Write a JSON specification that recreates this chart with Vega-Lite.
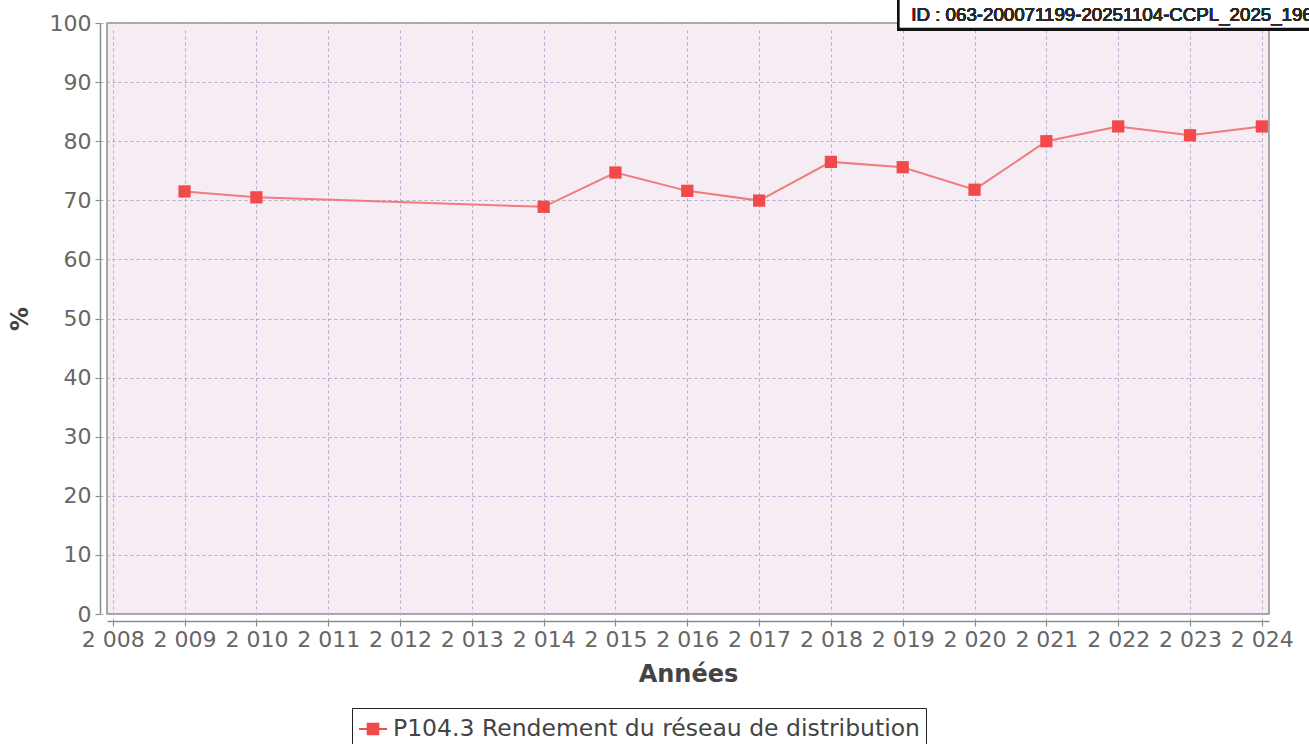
{
  "$schema": "https://vega.github.io/schema/vega-lite/v6.json",
  "width": 1162,
  "height": 591,
  "autosize": {"type": "none"},
  "padding": {"left": 107, "top": 23, "right": 40, "bottom": 130},
  "background": "white",
  "config": {
    "font": "DejaVu Sans",
    "view": {"fill": "#f5ecf4", "stroke": "#8c8c8c", "strokeWidth": 1.5},
    "axis": {
      "gridColor": "#b4a8cc",
      "gridDash": [3, 3],
      "gridWidth": 1,
      "gridOpacity": 1,
      "domainColor": "#8c8c8c",
      "domainWidth": 1.5,
      "tickColor": "#8c8c8c",
      "tickWidth": 1.2,
      "tickSize": 5,
      "labelFontSize": 22,
      "labelColor": "#666666",
      "titleFontSize": 24,
      "titleFontWeight": "bold",
      "titleColor": "#444444",
      "labelOverlap": false,
      "labelFlush": false,
      "offset": 7
    }
  },
  "data": {
    "values": [
      {"annee": 2009, "valeur": 71.5, "serie": "P104.3 Rendement du réseau de distribution"},
      {"annee": 2010, "valeur": 70.5, "serie": "P104.3 Rendement du réseau de distribution"},
      {"annee": 2014, "valeur": 68.9, "serie": "P104.3 Rendement du réseau de distribution"},
      {"annee": 2015, "valeur": 74.7, "serie": "P104.3 Rendement du réseau de distribution"},
      {"annee": 2016, "valeur": 71.6, "serie": "P104.3 Rendement du réseau de distribution"},
      {"annee": 2017, "valeur": 69.95, "serie": "P104.3 Rendement du réseau de distribution"},
      {"annee": 2018, "valeur": 76.5, "serie": "P104.3 Rendement du réseau de distribution"},
      {"annee": 2019, "valeur": 75.6, "serie": "P104.3 Rendement du réseau de distribution"},
      {"annee": 2020, "valeur": 71.8, "serie": "P104.3 Rendement du réseau de distribution"},
      {"annee": 2021, "valeur": 80.0, "serie": "P104.3 Rendement du réseau de distribution"},
      {"annee": 2022, "valeur": 82.5, "serie": "P104.3 Rendement du réseau de distribution"},
      {"annee": 2023, "valeur": 81.0, "serie": "P104.3 Rendement du réseau de distribution"},
      {"annee": 2024, "valeur": 82.5, "serie": "P104.3 Rendement du réseau de distribution"}
    ]
  },
  "encoding": {
    "x": {
      "field": "annee",
      "type": "quantitative",
      "scale": {"domain": [2007.92, 2024.1], "nice": false, "zero": false},
      "axis": {
        "values": [2008, 2009, 2010, 2011, 2012, 2013, 2014, 2015, 2016, 2017, 2018, 2019, 2020, 2021, 2022, 2023, 2024],
        "labelExpr": "slice(datum.value + '', 0, 1) + ' ' + slice(datum.value + '', 1)",
        "title": "Années",
        "labelPadding": 3,
        "titlePadding": 12
      }
    },
    "y": {
      "field": "valeur",
      "type": "quantitative",
      "scale": {"domain": [0, 100], "nice": false},
      "axis": {
        "values": [0, 10, 20, 30, 40, 50, 60, 70, 80, 90, 100],
        "title": "%",
        "labelPadding": 4,
        "titlePadding": 17
      }
    }
  },
  "layer": [
    {
      "mark": {"type": "line", "strokeWidth": 2, "color": "#f07c7c"},
      "encoding": {}
    },
    {
      "mark": {"type": "point", "shape": "square", "filled": true, "size": 150, "opacity": 1},
      "encoding": {
        "color": {
          "field": "serie",
          "type": "nominal",
          "scale": {"range": ["#f24a4a"]},
          "legend": {
            "title": null,
            "orient": "none",
            "legendX": 245,
            "legendY": 685,
            "direction": "vertical",
            "fillColor": "white",
            "strokeColor": "#222222",
            "padding": 6,
            "labelFontSize": 23.5,
            "labelColor": "#444444",
            "labelLimit": 800,
            "labelOffset": 5,
            "symbolType": "M-1,-0.07H1V0.07H-1Z M-0.45,-0.45H0.45V0.45H-0.45Z",
            "symbolSize": 784,
            "encode": {
              "symbols": {
                "update": {
                  "fill": {"value": "#f24a4a"},
                  "strokeWidth": {"value": 0},
                  "opacity": {"value": 1}
                }
              },
              "legend": {"update": {"strokeWidth": {"value": 1.5}}}
            }
          }
        }
      }
    },
    {
      "mark": {"type": "rect", "fill": "white", "stroke": "#111111", "strokeWidth": 2.5},
      "encoding": {
        "x": {"datum": 2018.94, "type": "quantitative"},
        "x2": {"datum": 2025.6},
        "y": {"datum": 99.0, "type": "quantitative"},
        "y2": {"datum": 104.5}
      }
    },
    {
      "mark": {"type": "text", "align": "left", "baseline": "middle", "font": "Liberation Sans", "fontSize": 18.7, "fontWeight": 400, "fill": "#2a2a2a", "strokeWidth": 0, "text": "ID : 063-200071199-20251104-CCPL_2025_196"},
      "encoding": {
        "x": {"datum": 2019.12, "type": "quantitative"},
        "y": {"datum": 101.4, "type": "quantitative"}
      }
    }
  ]
}
